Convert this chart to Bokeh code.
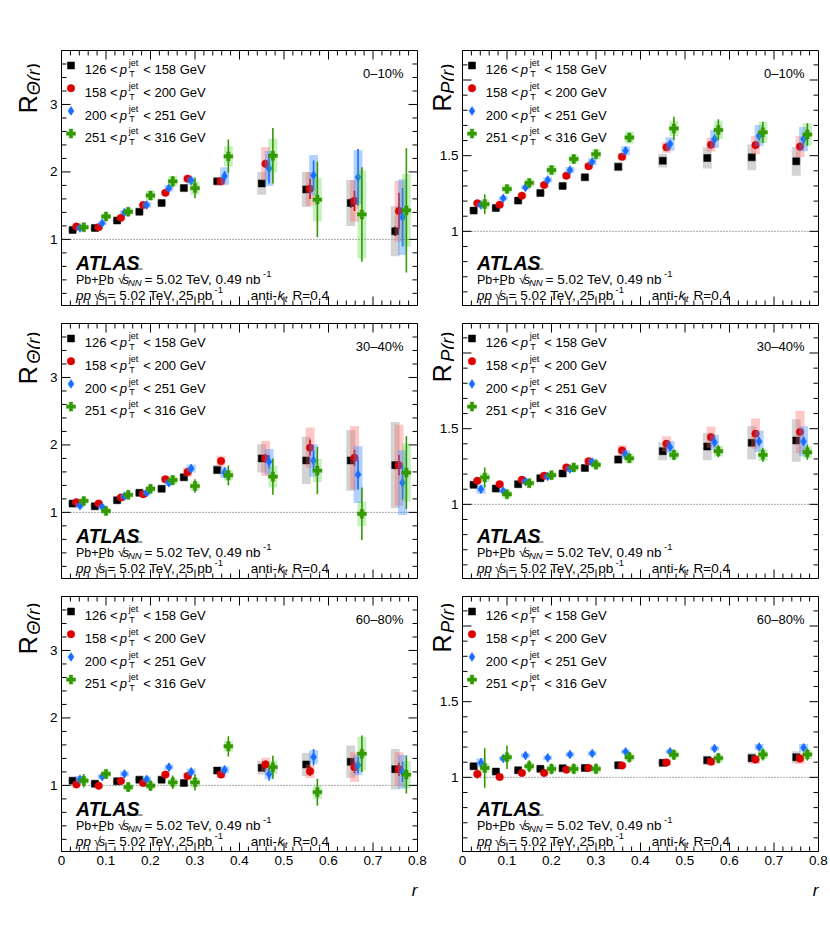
import math
from bokeh.plotting import figure
from bokeh.models import Range1d, FixedTicker, Label, Span, ColumnDataSource
from bokeh.layouts import row, column
from bokeh.embed import file_html
from bokeh.resources import INLINE

# ---------------- data ----------------
R_CENTERS = [0.025, 0.075, 0.125, 0.175, 0.225, 0.275, 0.35, 0.45, 0.55, 0.65, 0.75]
PT_BINS = [("126", "158"), ("158", "200"), ("200", "251"), ("251", "316")]
CENTRALITIES = ["0\u201310%", "30\u201340%", "60\u201380%"]

# R_Theta(r), 0-10%  (series: 126-158, 158-200, 200-251, 251-316 GeV)
RTH_0_10 = [
    [1.14, 1.17, 1.28, 1.41, 1.54, 1.76, 1.86, 1.83, 1.74, 1.54, 1.12],
    [1.19, 1.18, 1.32, 1.51, 1.69, 1.90, 1.86, 2.12, 1.75, 1.57, 1.42],
    [1.17, 1.24, 1.40, 1.51, 1.76, 1.87, 1.94, 2.05, 1.95, 1.92, 1.33],
    [1.18, 1.34, 1.41, 1.65, 1.86, 1.76, 2.23, 2.24, 1.59, 1.37, 1.43],
]
RTH_0_10_STAT = [
    [0.01, 0.01, 0.01, 0.01, 0.01, 0.02, 0.03, 0.04, 0.05, 0.07, 0.07],
    [0.01, 0.01, 0.01, 0.02, 0.02, 0.03, 0.04, 0.06, 0.15, 0.15, 0.27],
    [0.01, 0.02, 0.02, 0.03, 0.03, 0.05, 0.07, 0.22, 0.22, 0.42, 0.43],
    [0.02, 0.03, 0.04, 0.06, 0.08, 0.15, 0.25, 0.41, 0.56, 0.70, 0.92],
]
RTH_0_10_SYST = [
    [0.03, 0.03, 0.03, 0.03, 0.03, 0.04, 0.04, 0.17, 0.26, 0.34, 0.37],
    [0.03, 0.03, 0.03, 0.03, 0.04, 0.05, 0.06, 0.25, 0.25, 0.31, 0.45],
    [0.03, 0.03, 0.03, 0.04, 0.05, 0.06, 0.13, 0.26, 0.30, 0.40, 0.56],
    [0.04, 0.04, 0.05, 0.07, 0.08, 0.10, 0.15, 0.25, 0.32, 0.65, 0.54],
]

# R_Theta(r), 30-40%
RTH_30_40 = [
    [1.13, 1.09, 1.18, 1.29, 1.35, 1.52, 1.63, 1.80, 1.77, 1.77, 1.70],
    [1.15, 1.13, 1.22, 1.27, 1.49, 1.60, 1.76, 1.80, 1.96, 1.81, 1.70],
    [1.10, 1.08, 1.24, 1.29, 1.44, 1.65, 1.59, 1.75, 1.77, 1.56, 1.44],
    [1.17, 1.02, 1.26, 1.35, 1.48, 1.39, 1.55, 1.53, 1.62, 0.98, 1.59],
]
RTH_30_40_STAT = [
    [0.01, 0.01, 0.01, 0.01, 0.02, 0.02, 0.03, 0.04, 0.05, 0.05, 0.06],
    [0.01, 0.01, 0.01, 0.02, 0.02, 0.03, 0.04, 0.06, 0.12, 0.12, 0.15],
    [0.02, 0.02, 0.02, 0.03, 0.04, 0.06, 0.08, 0.10, 0.15, 0.22, 0.25],
    [0.03, 0.03, 0.04, 0.05, 0.07, 0.10, 0.15, 0.27, 0.35, 0.39, 0.54],
]
RTH_30_40_SYST = [
    [0.03, 0.03, 0.03, 0.03, 0.04, 0.05, 0.07, 0.21, 0.35, 0.45, 0.64],
    [0.03, 0.03, 0.03, 0.04, 0.05, 0.07, 0.08, 0.26, 0.30, 0.47, 0.60],
    [0.04, 0.03, 0.04, 0.04, 0.05, 0.06, 0.08, 0.19, 0.24, 0.42, 0.48],
    [0.04, 0.04, 0.04, 0.05, 0.06, 0.07, 0.08, 0.16, 0.17, 0.18, 0.43],
]

# R_Theta(r), 60-80%
RTH_60_80 = [
    [1.07, 1.025, 1.06, 1.085, 1.085, 1.035, 1.22, 1.26, 1.31, 1.35, 1.24],
    [1.015, 0.995, 1.065, 1.035, 1.16, 1.14, 1.16, 1.31, 1.21, 1.27, 1.24],
    [1.09, 1.13, 1.17, 1.09, 1.27, 1.20, 1.23, 1.17, 1.42, 1.30, 1.20],
    [1.07, 1.17, 0.975, 0.995, 1.045, 1.045, 1.58, 1.27, 0.90, 1.47, 1.16],
]
RTH_60_80_STAT = [
    [0.01, 0.01, 0.01, 0.01, 0.02, 0.02, 0.03, 0.04, 0.05, 0.05, 0.05],
    [0.02, 0.02, 0.02, 0.02, 0.03, 0.04, 0.05, 0.06, 0.07, 0.09, 0.10],
    [0.03, 0.03, 0.03, 0.04, 0.06, 0.06, 0.06, 0.10, 0.12, 0.12, 0.15],
    [0.10, 0.07, 0.07, 0.08, 0.10, 0.12, 0.15, 0.17, 0.20, 0.27, 0.28],
]
RTH_60_80_SYST = [
    [0.03, 0.02, 0.02, 0.02, 0.02, 0.03, 0.05, 0.10, 0.17, 0.24, 0.30],
    [0.02, 0.02, 0.02, 0.02, 0.04, 0.05, 0.05, 0.10, 0.10, 0.22, 0.25],
    [0.05, 0.04, 0.04, 0.04, 0.04, 0.05, 0.05, 0.08, 0.10, 0.15, 0.25],
    [0.05, 0.05, 0.05, 0.05, 0.05, 0.07, 0.08, 0.10, 0.10, 0.25, 0.20],
]

# R_P(r), 0-10%
RP_0_10 = [
    [1.137, 1.154, 1.203, 1.253, 1.300, 1.357, 1.427, 1.467, 1.485, 1.489, 1.463],
    [1.185, 1.176, 1.236, 1.306, 1.368, 1.430, 1.493, 1.555, 1.573, 1.570, 1.560],
    [1.174, 1.218, 1.290, 1.340, 1.405, 1.460, 1.533, 1.577, 1.610, 1.632, 1.610],
    [1.180, 1.280, 1.320, 1.405, 1.478, 1.510, 1.620, 1.680, 1.670, 1.654, 1.640],
]
RP_0_10_STAT = [
    [0.005, 0.005, 0.005, 0.005, 0.006, 0.007, 0.008, 0.010, 0.012, 0.014, 0.016],
    [0.006, 0.006, 0.007, 0.008, 0.009, 0.010, 0.012, 0.015, 0.018, 0.022, 0.026],
    [0.008, 0.009, 0.010, 0.011, 0.012, 0.014, 0.016, 0.020, 0.025, 0.030, 0.035],
    [0.065, 0.020, 0.020, 0.020, 0.022, 0.025, 0.030, 0.077, 0.070, 0.070, 0.075],
]
RP_0_10_SYST = [
    [0.015, 0.015, 0.015, 0.015, 0.015, 0.020, 0.030, 0.045, 0.070, 0.085, 0.095],
    [0.015, 0.015, 0.015, 0.015, 0.018, 0.020, 0.025, 0.035, 0.045, 0.060, 0.070],
    [0.015, 0.015, 0.015, 0.018, 0.020, 0.022, 0.030, 0.045, 0.060, 0.070, 0.080],
    [0.030, 0.025, 0.025, 0.030, 0.030, 0.035, 0.040, 0.050, 0.060, 0.070, 0.075],
]

# R_P(r), 30-40%
RP_30_40 = [
    [1.129, 1.104, 1.133, 1.173, 1.204, 1.240, 1.296, 1.351, 1.382, 1.407, 1.422],
    [1.156, 1.133, 1.162, 1.189, 1.244, 1.284, 1.356, 1.400, 1.444, 1.467, 1.478],
    [1.100, 1.089, 1.151, 1.184, 1.233, 1.278, 1.329, 1.378, 1.410, 1.416, 1.416],
    [1.178, 1.067, 1.140, 1.193, 1.244, 1.262, 1.304, 1.327, 1.351, 1.327, 1.344],
]
RP_30_40_STAT = [
    [0.005, 0.005, 0.005, 0.006, 0.006, 0.007, 0.008, 0.010, 0.012, 0.014, 0.016],
    [0.007, 0.007, 0.008, 0.009, 0.010, 0.011, 0.012, 0.014, 0.016, 0.018, 0.020],
    [0.020, 0.012, 0.010, 0.010, 0.012, 0.014, 0.016, 0.020, 0.024, 0.028, 0.030],
    [0.066, 0.025, 0.020, 0.020, 0.022, 0.025, 0.030, 0.035, 0.040, 0.045, 0.050],
]
RP_30_40_SYST = [
    [0.015, 0.015, 0.015, 0.015, 0.018, 0.020, 0.030, 0.060, 0.090, 0.110, 0.140],
    [0.015, 0.015, 0.015, 0.018, 0.020, 0.025, 0.035, 0.050, 0.070, 0.100, 0.140],
    [0.030, 0.015, 0.015, 0.015, 0.020, 0.025, 0.030, 0.040, 0.050, 0.070, 0.100],
    [0.030, 0.025, 0.020, 0.020, 0.025, 0.025, 0.030, 0.030, 0.035, 0.040, 0.040],
]

# R_P(r), 60-80%
RP_60_80 = [
    [1.073, 1.038, 1.047, 1.056, 1.060, 1.062, 1.080, 1.096, 1.113, 1.127, 1.133],
    [1.022, 1.002, 1.029, 1.029, 1.051, 1.062, 1.078, 1.098, 1.104, 1.118, 1.124],
    [1.096, 1.124, 1.144, 1.129, 1.151, 1.158, 1.169, 1.169, 1.191, 1.200, 1.196],
    [1.062, 1.133, 1.073, 1.056, 1.056, 1.056, 1.133, 1.149, 1.127, 1.151, 1.151],
]
RP_60_80_STAT = [
    [0.010, 0.008, 0.008, 0.008, 0.008, 0.008, 0.010, 0.010, 0.012, 0.013, 0.014],
    [0.030, 0.012, 0.010, 0.010, 0.010, 0.010, 0.012, 0.012, 0.014, 0.015, 0.016],
    [0.030, 0.020, 0.015, 0.015, 0.015, 0.015, 0.015, 0.016, 0.018, 0.020, 0.022],
    [0.130, 0.078, 0.040, 0.035, 0.035, 0.035, 0.035, 0.035, 0.035, 0.040, 0.040],
]
RP_60_80_SYST = [
    [0.020, 0.012, 0.010, 0.010, 0.010, 0.012, 0.015, 0.020, 0.030, 0.035, 0.040],
    [0.015, 0.010, 0.010, 0.010, 0.012, 0.015, 0.015, 0.020, 0.025, 0.030, 0.035],
    [0.030, 0.015, 0.015, 0.015, 0.015, 0.015, 0.015, 0.015, 0.015, 0.020, 0.025],
    [0.030, 0.025, 0.025, 0.025, 0.025, 0.025, 0.025, 0.025, 0.025, 0.030, 0.030],
]

# ---------------- style ----------------
FONT = "Liberation Sans"
FW, FH = 356, 255
X_RANGE = (0.0, 0.8)
Y_RANGE_THETA = (0.02, 3.8)
Y_RANGE_P = (0.51, 2.195)
OFFSETS = [0.0, 0.0085, 0.0165, 0.025]
BOX_HALF = 0.01
MAJ_LEN, MIN_LEN = 9, 5
ROW_TOP = [50, 10, 10]
ROW_BOT = [8, 8, 22]
STYLES = [
    dict(marker="square", size=7, color="#000000", box="#a8a8a8", alpha=0.5),
    dict(marker="circle", size=7.5, color="#dc0000", box="#ff6060", alpha=0.35),
    dict(marker="diamond", size=9, color="#1a6eff", box="#3d8fff", alpha=0.4),
    dict(marker="plus", size=9, color="#339900", box="#44cc33", alpha=0.3),
]
UPWARD = math.pi / 2          # text reading bottom-to-top
TITLE_SHIFT = [28, 0, 0]      # per-row lift of the rotated titles


def style_axis(ax, ticks, overrides=None):
    ax.ticker = FixedTicker(ticks=ticks, minor_ticks=[])
    ax.axis_line_color = "black"
    ax.axis_line_width = 1
    ax.major_tick_in = 0
    ax.major_tick_out = 0
    ax.minor_tick_in = 0
    ax.minor_tick_out = 0
    ax.major_label_text_font = FONT
    ax.major_label_text_color = "black"
    ax.major_label_text_font_size = "13.5px"
    ax.major_label_standoff = 4
    if overrides:
        ax.major_label_overrides = overrides


def make_strip(width, height, items, styles=None):
    """A bare figure (frame = whole canvas) holding texts that sit outside the panels' frames."""
    kw = dict(styles=styles) if styles else {}
    s = figure(width=width, height=height, title=None,
               x_range=Range1d(0, width), y_range=Range1d(0, height),
               output_backend="svg", toolbar_location=None, x_axis_type=None, y_axis_type=None,
               min_border_left=0, min_border_right=0, min_border_top=0, min_border_bottom=0, **kw)
    s.min_border = 0
    s.grid.visible = False
    s.outline_line_color = None
    s.background_fill_color = None
    s.border_fill_color = None
    for (x, y_top, text, size, style, angle, align, baseline) in items:
        s.add_layout(Label(x=x, y=height - y_top, text=text, angle=angle, angle_units="rad",
                           text_font=FONT, text_font_size=f"{size}px",
                           text_font_style=style, text_align=align,
                           text_baseline=baseline, text_color="black"))
    return s


def make_panel(vals, stat, syst, yr, cent, left, row_idx, styles=None):
    lb = 21 if left else 38
    rb = 11
    top = ROW_TOP[row_idx]
    bot = ROW_BOT[row_idx]
    kw = dict(styles=styles) if styles else {}
    p = figure(width=lb + FW + rb, height=top + FH + bot,
               x_range=Range1d(*X_RANGE), y_range=Range1d(*yr),
               output_backend="svg", toolbar_location=None,
               min_border_left=lb, min_border_right=rb,
               min_border_top=top, min_border_bottom=bot, **kw)
    p.grid.visible = False
    p.outline_line_color = "black"
    p.background_fill_color = None
    p.border_fill_color = None

    x0, x1 = X_RANGE
    y0, y1 = yr

    def X(px):
        return x0 + px / FW * (x1 - x0)

    def Y(py):
        return y1 - py / FH * (y1 - y0)

    xmaj = [round(0.1 * k, 1) for k in range(9)]
    xmin = [round(0.02 * k, 2) for k in range(41) if k % 5]
    if left:
        ymaj = [1, 2, 3]
        ymin = [round(0.2 * k, 1) for k in range(1, 19) if k % 5]
        ylab = [1, 2, 3]
        yover = None
    else:
        ymaj = [1, 1.5, 2]
        ymin = [round(0.1 * k, 1) for k in range(6, 22) if k % 5]
        ylab = [1, 1.5]
        yover = {1: "1"}

    style_axis(p.yaxis[0], ylab, yover)
    if row_idx == 2:
        style_axis(p.xaxis[0], xmaj, {0: "0"})
    else:
        p.xaxis.visible = False

    # tick marks on all four sides (inside the frame)
    dxM, dxm = MAJ_LEN / FW * (x1 - x0), MIN_LEN / FW * (x1 - x0)
    dyM, dym = MAJ_LEN / FH * (y1 - y0), MIN_LEN / FH * (y1 - y0)
    tx = xmaj + xmin
    tl = [dyM] * len(xmaj) + [dym] * len(xmin)
    p.segment(x0=tx, y0=[y0] * len(tx), x1=tx, y1=[y0 + d for d in tl], line_color="black", line_width=1)
    p.segment(x0=tx, y0=[y1] * len(tx), x1=tx, y1=[y1 - d for d in tl], line_color="black", line_width=1)
    ty = ymaj + ymin
    tl = [dxM] * len(ymaj) + [dxm] * len(ymin)
    p.segment(x0=[x0] * len(ty), y0=ty, x1=[x0 + d for d in tl], y1=ty, line_color="black", line_width=1)
    p.segment(x0=[x1] * len(ty), y0=ty, x1=[x1 - d for d in tl], y1=ty, line_color="black", line_width=1)

    p.add_layout(Span(location=1, dimension="width", line_color="#555555",
                      line_dash="1 2", line_width=1, level="underlay"))

    # data
    for s, st in enumerate(STYLES):
        xs = [c + OFFSETS[s] for c in R_CENTERS]
        v = vals[s]
        src = ColumnDataSource(dict(
            x=xs, y=v,
            left=[x - BOX_HALF for x in xs], right=[x + BOX_HALF for x in xs],
            top=[a + b for a, b in zip(v, syst[s])],
            bottom=[a - b for a, b in zip(v, syst[s])],
            lo=[a - e for a, e in zip(v, stat[s])],
            hi=[a + e for a, e in zip(v, stat[s])],
        ))
        p.quad(left="left", right="right", top="top", bottom="bottom", source=src,
               fill_color=st["box"], fill_alpha=st["alpha"], line_color=None)
        p.segment(x0="x", y0="lo", x1="x", y1="hi", source=src,
                  line_color=st["color"], line_width=1.6)
        p.scatter("x", "y", source=src, marker=st["marker"], size=st["size"],
                  fill_color=st["color"], line_color=st["color"], line_width=0.5)

    def lab(px, py, text, size, style="normal", align="left"):
        p.add_layout(Label(x=X(px), y=Y(py), text=text, text_font=FONT,
                           text_font_size=f"{size}px", text_font_style=style,
                           text_align=align, text_baseline="alphabetic",
                           text_color="black"))

    # legend
    for i, (lo, hi) in enumerate(PT_BINS):
        st = STYLES[i]
        yc = 15 + 22.7 * i
        p.scatter([X(9.5)], [Y(yc)], marker=st["marker"], size=st["size"],
                  fill_color=st["color"], line_color=st["color"], line_width=0.5)
        bl = yc + 4.3
        lab(23.3, bl, f"{lo} <", 13)
        lab(58.3, bl, "p", 13, "italic")
        lab(67.3, bl - 6.6, "jet", 9)
        lab(67.8, bl + 4.0, "T", 9)
        lab(81.7, bl, f"< {hi} GeV", 13)

    lab(FW - 14, 22.7, cent, 13, align="right")

    # ATLAS block
    lab(14.5, 212.5, "ATLAS", 19.5, "bold italic")
    b1 = 229
    lab(14.5, b1, "Pb+Pb", 12.5)
    lab(56.5, b1, "\u221a", 12.5)
    lab(61, b1, "s", 13.5, "italic")
    lab(66.5, b1 + 3, "NN", 9.5, "italic")
    p.segment([X(61)], [Y(b1 - 10.5)], [X(81)], [Y(b1 - 10.5)], line_color="black", line_width=0.8)
    lab(83, b1, "= 5.02 TeV, 0.49 nb", 13.5)
    lab(201.5, b1 - 6, "-1", 9.5)
    b2 = 245
    lab(14.5, b2, "pp", 13.5, "italic")
    lab(32.5, b2, "\u221a", 12.5)
    lab(37, b2, "s", 13.5, "italic")
    p.segment([X(37)], [Y(b2 - 11)], [X(43)], [Y(b2 - 11)], line_color="black", line_width=0.8)
    lab(46, b2, "= 5.02 TeV, 25 pb", 13.5)
    lab(153, b2 - 6, "-1", 9.5)
    lab(189.2, b2, "anti-", 13.5)
    lab(216, b2, "k", 13.5, "italic")
    lab(223.2, b2 + 3, "t", 9.5, "italic")
    lab(231, b2, "R=0.4", 13.5)
    return p


PANELS = [
    (RTH_0_10, RTH_0_10_STAT, RTH_0_10_SYST, RP_0_10, RP_0_10_STAT, RP_0_10_SYST),
    (RTH_30_40, RTH_30_40_STAT, RTH_30_40_SYST, RP_30_40, RP_30_40_STAT, RP_30_40_SYST),
    (RTH_60_80, RTH_60_80_STAT, RTH_60_80_SYST, RP_60_80, RP_60_80_STAT, RP_60_80_SYST),
]

rows = []
for r, (tv, ts, tsy, pv, ps, psy) in enumerate(PANELS):
    top = ROW_TOP[r]
    H = top + FH + ROW_BOT[r]
    sh = TITLE_SHIFT[r]
    # rotated y-axis titles (reading upwards), anchored at the start of their baseline
    s_left = make_strip(40, H, [
        (27, top + 55 - sh, "R", 25, "normal", UPWARD, "left", "alphabetic"),
        (33, top + 33 - sh, "\u0398(r)", 18, "italic", UPWARD, "left", "alphabetic"),
    ])
    a = make_panel(tv, ts, tsy, Y_RANGE_THETA, CENTRALITIES[r], True, r)
    s_right = make_strip(36, H, [
        (23.5, top + 53 - sh, "R", 25, "normal", UPWARD, "left", "alphabetic"),
        (29.5, top + 31 - sh, "P(r)", 18, "italic", UPWARD, "left", "alphabetic"),
    ], styles={"margin-left": "-10px"})
    b = make_panel(pv, ps, psy, Y_RANGE_P, CENTRALITIES[r], False, r,
                   styles={"margin-left": "-30px"})
    rows.append(row(s_left, a, s_right, b))

# x-axis titles below the bottom row
r_strip = make_strip(822, 36, [
    (417, 17, "r", 17, "italic", 0.0, "right", "alphabetic"),
    (818, 17, "r", 17, "italic", 0.0, "right", "alphabetic"),
])
rows.append(r_strip)

layout = column(*rows)
open("out.html", "w").write(file_html(layout, INLINE))
